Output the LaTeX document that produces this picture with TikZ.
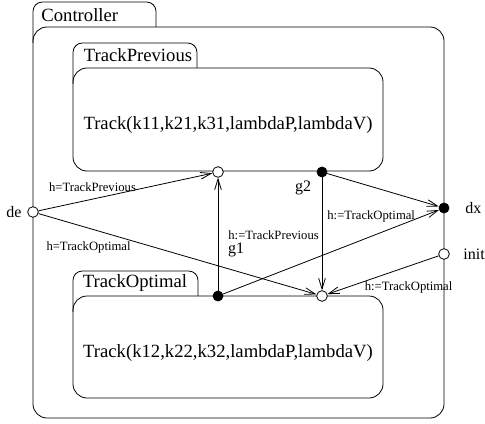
\documentclass[tikz,border=0pt]{standalone}
\usepackage{fontspec}
\setmainfont{Liberation Serif}
\usetikzlibrary{arrows.meta}
\tikzset{>={Straight Barb[length=8pt,width=5pt]}}
\tikzset{
    pseudo/.style={circle,draw,fill=white,inner sep=0pt,minimum size=8pt},
    junct/.style={circle,draw,fill=black,inner sep=0pt,minimum size=7.5pt},
    trans/.style={->,line width=0.6pt},
    guard/.style={font=\fontsize{9.5}{11}\selectfont,inner sep=0pt},
    pname/.style={font=\fontsize{12}{14}\selectfont,inner sep=0pt},
    sname/.style={font=\fontsize{14}{16}\selectfont,inner sep=0pt},
}
\newcommand\tabbox[5]{
    \draw[rounded corners=10.5pt] (#1,#2) rectangle (#3,#4);
    \draw[rounded corners=7pt] (#1,#2+16) -- (#1,#2-25) -- (#5,#2-25) -- (#5,#2);
}

\begin{document}
\begin{tikzpicture}[x=0.75pt,y=-0.75pt,line width=0.6pt]
        \useasboundingbox (0,0) rectangle (485,424);

        \tabbox{33}{27}{444}{418}{156}
        \tabbox{73}{68}{383}{171}{197}
        \tabbox{73}{296}{383}{398}{198}

        \node[sname,anchor=west] (ctrl) at (41,15) {Controller};
        \node[sname] (prevname) at (138,55) {TrackPrevious};
        \node[sname] (optname) at (135,283) {TrackOptimal};
        \node[sname] (prevbody) at (228,125) {Track(k11,k21,k31,lambdaP,lambdaV)};
        \node[sname] (optbody) at (228,353) {Track(k12,k22,k32,lambdaP,lambdaV)};

        \node[pseudo] (de) at (33,212) {};
        \node[junct] (dx) at (444,208) {};
        \node[pseudo] (init) at (444,254) {};
        \node[pseudo] (pin) at (218,172) {};
        \node[pseudo] (oin) at (322,296) {};
        \node[junct] (g1) at (218,296) {};
        \node[junct] (g2) at (322,172) {};

        \node[pname] (dename) at (14,212) {de};
        \node[pname,anchor=west] (dxname) at (465,208) {dx};
        \node[pname,anchor=west] (initname) at (463,254) {init};
        \node[pname] (g1name) at (236,250) {g1};
        \node[pname] (g2name) at (303,188) {g2};

        \draw[trans] (de) -- node[guard,pos=0.31,yshift=8.7pt] {h=TrackPrevious} (pin);
        \draw[trans] (de) -- node[guard,pos=0.18,yshift=-14.4pt] {h=TrackOptimal} (oin);
        \draw[trans] (g1) -- node[guard,pos=0.49,anchor=west,xshift=7.5pt] {h:=TrackPrevious} (pin);
        \draw[trans] (g2) -- node[guard,pos=0.35,anchor=west,xshift=3.75pt] {h:=TrackOptimal} (oin);
        \draw[trans] (init) -- node[guard,pos=0.27,yshift=-16.3pt] {h:=TrackOptimal} (oin);
        \draw[trans] (g1) -- (dx);
        \draw[trans] (g2) -- (dx);
    \end{tikzpicture}
\end{document}
